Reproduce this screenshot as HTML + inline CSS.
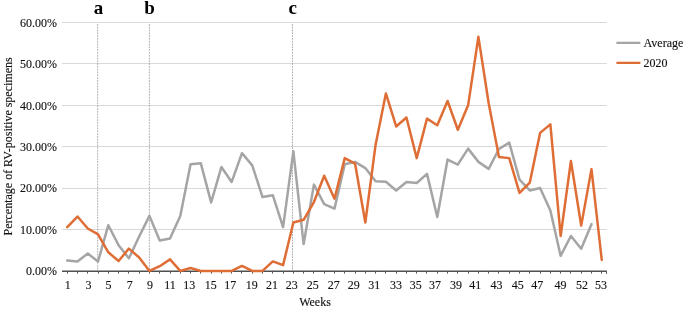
<!DOCTYPE html>
<html><head><meta charset="utf-8">
<style>
html,body{margin:0;padding:0;background:#fff;}
body{width:685px;height:309px;overflow:hidden;}
svg{display:block;font-family:"Liberation Serif",serif;will-change:transform;}
</style></head>
<body>
<svg width="685" height="309" viewBox="0 0 685 309">
<rect width="685" height="309" fill="#fff"/>
<g stroke="#D9D9D9" stroke-width="1">
<line x1="62.0" y1="229.50" x2="606.8" y2="229.50"/>
<line x1="62.0" y1="188.50" x2="606.8" y2="188.50"/>
<line x1="62.0" y1="146.50" x2="606.8" y2="146.50"/>
<line x1="62.0" y1="105.50" x2="606.8" y2="105.50"/>
<line x1="62.0" y1="63.50" x2="606.8" y2="63.50"/>
<line x1="62.0" y1="22.50" x2="606.8" y2="22.50"/>
</g>
<g stroke="#999" stroke-width="0.8" stroke-dasharray="1.8 1.0">
<line x1="97.70" y1="24.0" x2="97.70" y2="270.95"/>
<line x1="149.40" y1="24.0" x2="149.40" y2="270.95"/>
<line x1="292.50" y1="24.0" x2="292.50" y2="270.95"/>
</g>
<g stroke="#595959" stroke-width="1">
<line x1="62.0" y1="271.2" x2="606.8" y2="271.2" stroke-width="1.4" stroke="#505050"/>
<line x1="67.50" y1="270.95" x2="67.50" y2="273.65"/>
<line x1="77.50" y1="270.95" x2="77.50" y2="273.65"/>
<line x1="87.50" y1="270.95" x2="87.50" y2="273.65"/>
<line x1="98.50" y1="270.95" x2="98.50" y2="273.65"/>
<line x1="108.50" y1="270.95" x2="108.50" y2="273.65"/>
<line x1="118.50" y1="270.95" x2="118.50" y2="273.65"/>
<line x1="128.50" y1="270.95" x2="128.50" y2="273.65"/>
<line x1="139.50" y1="270.95" x2="139.50" y2="273.65"/>
<line x1="149.50" y1="270.95" x2="149.50" y2="273.65"/>
<line x1="159.50" y1="270.95" x2="159.50" y2="273.65"/>
<line x1="170.50" y1="270.95" x2="170.50" y2="273.65"/>
<line x1="180.50" y1="270.95" x2="180.50" y2="273.65"/>
<line x1="190.50" y1="270.95" x2="190.50" y2="273.65"/>
<line x1="200.50" y1="270.95" x2="200.50" y2="273.65"/>
<line x1="211.50" y1="270.95" x2="211.50" y2="273.65"/>
<line x1="221.50" y1="270.95" x2="221.50" y2="273.65"/>
<line x1="231.50" y1="270.95" x2="231.50" y2="273.65"/>
<line x1="241.50" y1="270.95" x2="241.50" y2="273.65"/>
<line x1="252.50" y1="270.95" x2="252.50" y2="273.65"/>
<line x1="262.50" y1="270.95" x2="262.50" y2="273.65"/>
<line x1="272.50" y1="270.95" x2="272.50" y2="273.65"/>
<line x1="283.50" y1="270.95" x2="283.50" y2="273.65"/>
<line x1="293.50" y1="270.95" x2="293.50" y2="273.65"/>
<line x1="303.50" y1="270.95" x2="303.50" y2="273.65"/>
<line x1="313.50" y1="270.95" x2="313.50" y2="273.65"/>
<line x1="324.50" y1="270.95" x2="324.50" y2="273.65"/>
<line x1="334.50" y1="270.95" x2="334.50" y2="273.65"/>
<line x1="344.50" y1="270.95" x2="344.50" y2="273.65"/>
<line x1="355.50" y1="270.95" x2="355.50" y2="273.65"/>
<line x1="365.50" y1="270.95" x2="365.50" y2="273.65"/>
<line x1="375.50" y1="270.95" x2="375.50" y2="273.65"/>
<line x1="385.50" y1="270.95" x2="385.50" y2="273.65"/>
<line x1="396.50" y1="270.95" x2="396.50" y2="273.65"/>
<line x1="406.50" y1="270.95" x2="406.50" y2="273.65"/>
<line x1="416.50" y1="270.95" x2="416.50" y2="273.65"/>
<line x1="426.50" y1="270.95" x2="426.50" y2="273.65"/>
<line x1="437.50" y1="270.95" x2="437.50" y2="273.65"/>
<line x1="447.50" y1="270.95" x2="447.50" y2="273.65"/>
<line x1="457.50" y1="270.95" x2="457.50" y2="273.65"/>
<line x1="468.50" y1="270.95" x2="468.50" y2="273.65"/>
<line x1="478.50" y1="270.95" x2="478.50" y2="273.65"/>
<line x1="488.50" y1="270.95" x2="488.50" y2="273.65"/>
<line x1="498.50" y1="270.95" x2="498.50" y2="273.65"/>
<line x1="509.50" y1="270.95" x2="509.50" y2="273.65"/>
<line x1="519.50" y1="270.95" x2="519.50" y2="273.65"/>
<line x1="529.50" y1="270.95" x2="529.50" y2="273.65"/>
<line x1="540.50" y1="270.95" x2="540.50" y2="273.65"/>
<line x1="550.50" y1="270.95" x2="550.50" y2="273.65"/>
<line x1="560.50" y1="270.95" x2="560.50" y2="273.65"/>
<line x1="570.50" y1="270.95" x2="570.50" y2="273.65"/>
<line x1="581.50" y1="270.95" x2="581.50" y2="273.65"/>
<line x1="591.50" y1="270.95" x2="591.50" y2="273.65"/>
<line x1="601.50" y1="270.95" x2="601.50" y2="273.65"/>
<line x1="606.50" y1="270.95" x2="606.50" y2="273.95"/>
</g>
<polyline points="67.20,260.60 77.48,261.43 87.76,253.56 98.04,261.43 108.32,225.20 118.60,245.28 128.88,258.32 139.16,236.59 149.44,215.89 159.72,240.52 170.00,238.45 180.28,216.09 190.56,164.14 200.84,163.31 211.12,202.43 221.40,167.04 231.68,181.94 241.96,153.17 252.24,165.38 262.52,197.05 272.80,195.19 283.08,227.07 293.36,151.30 303.64,244.04 313.92,184.63 324.20,204.09 334.48,208.64 344.76,164.34 355.04,161.86 365.32,168.07 375.60,181.32 385.88,181.73 396.16,190.43 406.44,181.94 416.72,182.97 427.00,173.87 437.28,216.92 447.56,159.58 457.84,164.55 468.12,148.61 478.40,161.86 488.68,168.90 498.96,149.03 509.24,142.61 519.52,179.66 529.80,190.43 540.08,187.94 550.36,210.51 560.64,255.84 570.92,235.97 581.20,248.80 591.48,224.17" fill="none" stroke="#A5A5A5" stroke-width="2.5" stroke-linejoin="round" stroke-linecap="round"/>
<polyline points="67.20,227.07 77.48,216.51 87.76,228.51 98.04,234.31 108.32,252.32 118.60,261.01 128.88,248.59 139.16,257.50 149.44,270.95 159.72,266.19 170.00,259.36 180.28,270.95 190.56,268.05 200.84,270.95 211.12,270.95 221.40,270.95 231.68,270.95 241.96,265.98 252.24,270.95 262.52,270.95 272.80,261.43 283.08,265.15 293.36,222.51 303.64,219.82 313.92,202.02 324.20,175.73 334.48,198.71 344.76,158.13 355.04,163.52 365.32,222.51 375.60,144.68 385.88,93.47 396.16,126.46 406.44,117.56 416.72,158.13 427.00,118.60 437.28,125.22 447.56,101.00 457.84,129.78 468.12,105.35 478.40,36.83 488.68,103.28 498.96,156.89 509.24,158.13 519.52,192.91 529.80,182.56 540.08,132.88 550.36,124.39 560.64,235.97 570.92,161.03 581.20,225.62 591.48,169.11 601.76,259.98" fill="none" stroke="#DF6E36" stroke-width="2.5" stroke-linejoin="round" stroke-linecap="round"/>
<g font-size="12" fill="#111" stroke="#111" stroke-width="0.12" text-anchor="end">
<text transform="translate(57.00,275.25) scale(1,1.1)">0.00%</text>
<text transform="translate(57.00,233.85) scale(1,1.1)">10.00%</text>
<text transform="translate(57.00,192.45) scale(1,1.1)">20.00%</text>
<text transform="translate(57.00,151.05) scale(1,1.1)">30.00%</text>
<text transform="translate(57.00,109.65) scale(1,1.1)">40.00%</text>
<text transform="translate(57.00,68.25) scale(1,1.1)">50.00%</text>
<text transform="translate(57.00,26.85) scale(1,1.1)">60.00%</text>
</g>
<g font-size="12" fill="#111" stroke="#111" stroke-width="0.12" text-anchor="middle">
<text transform="translate(67.70,289.00) scale(1,1.1)">1</text>
<text transform="translate(88.46,289.00) scale(1,1.1)">3</text>
<text transform="translate(108.52,289.00) scale(1,1.1)">5</text>
<text transform="translate(129.68,289.00) scale(1,1.1)">7</text>
<text transform="translate(149.94,289.00) scale(1,1.1)">9</text>
<text transform="translate(170.00,289.00) scale(1,1.1)">11</text>
<text transform="translate(189.36,289.00) scale(1,1.1)">13</text>
<text transform="translate(210.62,289.00) scale(1,1.1)">15</text>
<text transform="translate(230.18,289.00) scale(1,1.1)">17</text>
<text transform="translate(251.84,289.00) scale(1,1.1)">19</text>
<text transform="translate(271.90,289.00) scale(1,1.1)">21</text>
<text transform="translate(291.66,289.00) scale(1,1.1)">23</text>
<text transform="translate(312.72,289.00) scale(1,1.1)">25</text>
<text transform="translate(333.78,289.00) scale(1,1.1)">27</text>
<text transform="translate(353.64,289.00) scale(1,1.1)">29</text>
<text transform="translate(374.30,289.00) scale(1,1.1)">31</text>
<text transform="translate(395.96,289.00) scale(1,1.1)">33</text>
<text transform="translate(415.62,289.00) scale(1,1.1)">35</text>
<text transform="translate(434.88,289.00) scale(1,1.1)">37</text>
<text transform="translate(456.04,289.00) scale(1,1.1)">39</text>
<text transform="translate(475.30,289.00) scale(1,1.1)">41</text>
<text transform="translate(496.56,289.00) scale(1,1.1)">43</text>
<text transform="translate(517.82,289.00) scale(1,1.1)">45</text>
<text transform="translate(537.18,289.00) scale(1,1.1)">47</text>
<text transform="translate(560.44,289.00) scale(1,1.1)">49</text>
<text transform="translate(582.00,289.00) scale(1,1.1)">52</text>
<text transform="translate(601.06,289.00) scale(1,1.1)">53</text>
<text transform="translate(315.00,306.30) scale(1,1.1)">Weeks</text>
<text transform="translate(11.5,146.4) rotate(-90) scale(1,1.1)">Percentage of RV-positive specimens</text>
</g>
<g font-size="19" font-weight="bold" fill="#000" text-anchor="middle">
<text x="98.60" y="14">a</text>
<text x="149.60" y="14">b</text>
<text x="292.80" y="14">c</text>
</g>
<line x1="616.4" y1="42.85" x2="640.4" y2="42.85" stroke="#A5A5A5" stroke-width="2.25"/>
<line x1="616.4" y1="62.85" x2="640.4" y2="62.85" stroke="#DF6E36" stroke-width="2.25"/>
<g font-size="12" fill="#111" stroke="#111" stroke-width="0.12">
<text transform="translate(643.60,46.80) scale(1,1.1)">Average</text>
<text transform="translate(643.60,66.70) scale(1,1.1)">2020</text>
</g>
</svg>
</body></html>
